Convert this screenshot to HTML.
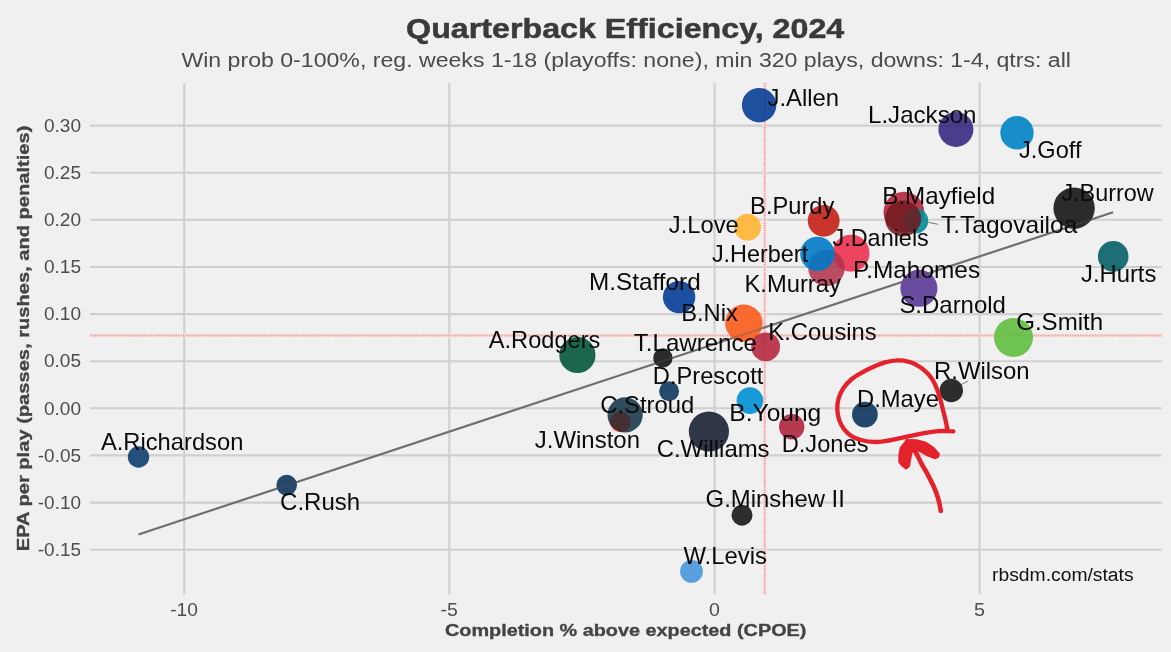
<!DOCTYPE html>
<html><head><meta charset="utf-8"><title>Quarterback Efficiency, 2024</title>
<style>
html,body{margin:0;padding:0;background:#F0F0F0;}
body{width:1171px;height:652px;overflow:hidden;font-family:"Liberation Sans",sans-serif;}
svg{display:block;filter:blur(0.45px);}
text{font-family:"Liberation Sans",sans-serif;}
.lab{font-size:23.8px;fill:#0a0a0a;}
.tick{font-size:17.6px;fill:#4d4d4d;}
.ax{font-size:17.2px;font-weight:bold;fill:#444;stroke:#444;stroke-width:0.35px;}
</style></head><body>
<svg width="1171" height="652" viewBox="0 0 1171 652">
<rect x="0" y="0" width="1171" height="652" fill="#F0F0F0"/>
<text x="406.1" y="37.8" font-size="27.4" font-weight="bold" fill="#3a3a3a" stroke="#3a3a3a" stroke-width="0.5" textLength="438.2" lengthAdjust="spacingAndGlyphs">Quarterback Efficiency, 2024</text>
<text x="181.4" y="67.4" font-size="20" fill="#4a4a4a" textLength="889.6" lengthAdjust="spacingAndGlyphs">Win prob 0-100%, reg. weeks 1-18 (playoffs: none), min 320 plays, downs: 1-4, qtrs: all</text>
<g stroke="#CFCFCF" stroke-width="2.1" fill="none">
<line x1="90" y1="125.6" x2="1161.7" y2="125.6"/>
<line x1="90" y1="172.7" x2="1161.7" y2="172.7"/>
<line x1="90" y1="219.8" x2="1161.7" y2="219.8"/>
<line x1="90" y1="267.0" x2="1161.7" y2="267.0"/>
<line x1="90" y1="314.1" x2="1161.7" y2="314.1"/>
<line x1="90" y1="361.2" x2="1161.7" y2="361.2"/>
<line x1="90" y1="408.3" x2="1161.7" y2="408.3"/>
<line x1="90" y1="455.4" x2="1161.7" y2="455.4"/>
<line x1="90" y1="502.6" x2="1161.7" y2="502.6"/>
<line x1="90" y1="549.7" x2="1161.7" y2="549.7"/>
<line x1="184.2" y1="83" x2="184.2" y2="594.5"/>
<line x1="449.3" y1="83" x2="449.3" y2="594.5"/>
<line x1="714.6" y1="83" x2="714.6" y2="594.5"/>
<line x1="979.6" y1="83" x2="979.6" y2="594.5"/>
</g>
<g stroke="#F9E8E8" stroke-width="3.8" fill="none">
<line x1="90" y1="335.5" x2="1161.7" y2="335.5"/>
<line x1="764.7" y1="83" x2="764.7" y2="594.5"/>
</g>
<g stroke="#F6D6D6" stroke-width="2.0" fill="none">
<line x1="90" y1="335.5" x2="1161.7" y2="335.5"/>
<line x1="764.7" y1="83" x2="764.7" y2="594.5"/>
</g>
<g stroke="#EA9C9C" stroke-width="2.0" fill="none" stroke-dasharray="1.05 1.4">
<line x1="90" y1="335.5" x2="1161.7" y2="335.5"/>
<line x1="764.7" y1="83" x2="764.7" y2="594.5"/>
</g>
<text class="tick" x="43.9" y="131.8" textLength="37.1" lengthAdjust="spacingAndGlyphs">0.30</text>
<text class="tick" x="43.9" y="178.9" textLength="37.1" lengthAdjust="spacingAndGlyphs">0.25</text>
<text class="tick" x="43.9" y="226.0" textLength="37.1" lengthAdjust="spacingAndGlyphs">0.20</text>
<text class="tick" x="43.9" y="273.2" textLength="37.1" lengthAdjust="spacingAndGlyphs">0.15</text>
<text class="tick" x="43.9" y="320.3" textLength="37.1" lengthAdjust="spacingAndGlyphs">0.10</text>
<text class="tick" x="43.9" y="367.4" textLength="37.1" lengthAdjust="spacingAndGlyphs">0.05</text>
<text class="tick" x="43.9" y="414.5" textLength="37.1" lengthAdjust="spacingAndGlyphs">0.00</text>
<text class="tick" x="37.8" y="461.6" textLength="43.2" lengthAdjust="spacingAndGlyphs">-0.05</text>
<text class="tick" x="37.8" y="508.8" textLength="43.2" lengthAdjust="spacingAndGlyphs">-0.10</text>
<text class="tick" x="37.8" y="555.9" textLength="43.2" lengthAdjust="spacingAndGlyphs">-0.15</text>
<text class="tick" x="170.2" y="616" textLength="27.8" lengthAdjust="spacingAndGlyphs">-10</text>
<text class="tick" x="440.6" y="616" textLength="17.3" lengthAdjust="spacingAndGlyphs">-5</text>
<text class="tick" x="709.1" y="616" textLength="10.9" lengthAdjust="spacingAndGlyphs">0</text>
<text class="tick" x="974.1" y="616" textLength="11.0" lengthAdjust="spacingAndGlyphs">5</text>
<text class="ax" x="445.0" y="635.9" textLength="361.4" lengthAdjust="spacingAndGlyphs">Completion % above expected (CPOE)</text>
<text class="ax" transform="translate(29.1,549.9) rotate(-90)" x="-1.3" y="0" textLength="425.6" lengthAdjust="spacingAndGlyphs">EPA per play (passes, rushes, and penalties)</text>
<line x1="138.5" y1="534.4" x2="1113" y2="212.3" stroke="#707070" stroke-width="2.1"/>
<g stroke="none">
<circle cx="138.5" cy="457" r="10.7" fill="#0D3E71" fill-opacity="0.9"/>
<circle cx="286.7" cy="485.1" r="10.3" fill="#0D345B" fill-opacity="0.9"/>
<circle cx="577.4" cy="355" r="18.1" fill="#04573E" fill-opacity="0.9"/>
<circle cx="662.9" cy="357.9" r="9.7" fill="#151515" fill-opacity="0.9"/>
<circle cx="669.1" cy="391.3" r="10" fill="#0E385D" fill-opacity="0.9"/>
<circle cx="620.3" cy="422.1" r="10.2" fill="#FB491D" fill-opacity="0.9"/>
<circle cx="625.1" cy="414.9" r="17.6" fill="#002237" fill-opacity="0.8"/>
<circle cx="708.9" cy="431.5" r="20.1" fill="#182135" fill-opacity="0.9"/>
<circle cx="749.9" cy="400.6" r="13.3" fill="#0090D3" fill-opacity="0.9"/>
<circle cx="743.9" cy="323.2" r="18.7" fill="#FA5B1B" fill-opacity="0.9"/>
<circle cx="765.6" cy="346.8" r="14.4" fill="#B62840" fill-opacity="0.9"/>
<circle cx="679.1" cy="297.1" r="16.2" fill="#063D97" fill-opacity="0.9"/>
<circle cx="747.6" cy="227.2" r="13.4" fill="#FEB531" fill-opacity="0.9"/>
<circle cx="759.1" cy="105.2" r="17.2" fill="#083D96" fill-opacity="0.9"/>
<circle cx="823.7" cy="220.8" r="15.9" fill="#C41F15" fill-opacity="0.9"/>
<circle cx="851" cy="253.2" r="18.5" fill="#EC3250" fill-opacity="0.9"/>
<circle cx="826.5" cy="268" r="18.25" fill="#B0334F" fill-opacity="0.88"/>
<circle cx="817.4" cy="253.9" r="17.2" fill="#007AC5" fill-opacity="0.9"/>
<circle cx="903.9" cy="212.2" r="20.4" fill="#B2253C" fill-opacity="0.9"/>
<circle cx="915.8" cy="220.8" r="12.5" fill="#008C97" fill-opacity="0.9"/>
<circle cx="903" cy="218.6" r="18" fill="#701A1F" fill-opacity="0.85"/>
<circle cx="918.9" cy="288.3" r="18.5" fill="#5A3997" fill-opacity="0.9"/>
<circle cx="955.9" cy="129.4" r="17.5" fill="#392981" fill-opacity="0.9"/>
<circle cx="1017" cy="132.8" r="16.7" fill="#0084C7" fill-opacity="0.9"/>
<circle cx="1074.1" cy="208.2" r="20.7" fill="#151515" fill-opacity="0.9"/>
<circle cx="1113.2" cy="256.4" r="15.3" fill="#076067" fill-opacity="0.9"/>
<circle cx="1013.5" cy="337.4" r="19.5" fill="#61BE3E" fill-opacity="0.9"/>
<circle cx="791.7" cy="426.7" r="12.7" fill="#AE253D" fill-opacity="0.9"/>
<circle cx="864.9" cy="414.6" r="12.9" fill="#0C345C" fill-opacity="0.9"/>
<circle cx="951.3" cy="390.5" r="11.7" fill="#171717" fill-opacity="0.9"/>
<circle cx="742" cy="515.2" r="10.5" fill="#171717" fill-opacity="0.9"/>
<circle cx="691.5" cy="571.4" r="11.4" fill="#4A97DC" fill-opacity="0.9"/>
</g>
<clipPath id="cs"><circle cx="625.1" cy="414.9" r="17.6"/></clipPath>
<circle cx="620.3" cy="422.1" r="10.2" fill="#4C2F30" clip-path="url(#cs)" fill-opacity="0.7"/>
<line x1="138.5" y1="534.4" x2="1113" y2="212.3" stroke="#707070" stroke-width="1.9" opacity="0.35"/>
<g stroke="#222" stroke-width="0.6"><line x1="928.3" y1="222.4" x2="938" y2="224.3"/><line x1="952.5" y1="389.2" x2="968" y2="381"/></g>
<text class="lab" x="767.5" y="106.0" textLength="71.6" lengthAdjust="spacingAndGlyphs">J.Allen</text>
<text class="lab" x="868.0" y="122.6" textLength="108.5" lengthAdjust="spacingAndGlyphs">L.Jackson</text>
<text class="lab" x="1019.0" y="158.1" textLength="62.5" lengthAdjust="spacingAndGlyphs">J.Goff</text>
<text class="lab" x="1061.4" y="200.7" textLength="92.3" lengthAdjust="spacingAndGlyphs">J.Burrow</text>
<text class="lab" x="882.3" y="203.6" textLength="112.8" lengthAdjust="spacingAndGlyphs">B.Mayfield</text>
<text class="lab" x="941.0" y="232.9" textLength="136.3" lengthAdjust="spacingAndGlyphs">T.Tagovailoa</text>
<text class="lab" x="750.1" y="213.7" textLength="84.2" lengthAdjust="spacingAndGlyphs">B.Purdy</text>
<text class="lab" x="668.8" y="233.2" textLength="69.9" lengthAdjust="spacingAndGlyphs">J.Love</text>
<text class="lab" x="832.5" y="245.5" textLength="96.3" lengthAdjust="spacingAndGlyphs">J.Daniels</text>
<text class="lab" x="711.9" y="262.2" textLength="96.3" lengthAdjust="spacingAndGlyphs">J.Herbert</text>
<text class="lab" x="853.0" y="277.6" textLength="127.1" lengthAdjust="spacingAndGlyphs">P.Mahomes</text>
<text class="lab" x="744.5" y="292.0" textLength="96.3" lengthAdjust="spacingAndGlyphs">K.Murray</text>
<text class="lab" x="1081.0" y="281.8" textLength="75.4" lengthAdjust="spacingAndGlyphs">J.Hurts</text>
<text class="lab" x="589.1" y="289.8" textLength="111.6" lengthAdjust="spacingAndGlyphs">M.Stafford</text>
<text class="lab" x="899.4" y="313.4" textLength="106.5" lengthAdjust="spacingAndGlyphs">S.Darnold</text>
<text class="lab" x="681.2" y="320.9" textLength="56.7" lengthAdjust="spacingAndGlyphs">B.Nix</text>
<text class="lab" x="1016.2" y="329.6" textLength="87.0" lengthAdjust="spacingAndGlyphs">G.Smith</text>
<text class="lab" x="768.3" y="339.8" textLength="108.4" lengthAdjust="spacingAndGlyphs">K.Cousins</text>
<text class="lab" x="488.8" y="348.1" textLength="111.5" lengthAdjust="spacingAndGlyphs">A.Rodgers</text>
<text class="lab" x="633.8" y="350.5" textLength="123.1" lengthAdjust="spacingAndGlyphs">T.Lawrence</text>
<text class="lab" x="652.8" y="383.5" textLength="110.5" lengthAdjust="spacingAndGlyphs">D.Prescott</text>
<text class="lab" x="934.0" y="378.6" textLength="95.6" lengthAdjust="spacingAndGlyphs">R.Wilson</text>
<text class="lab" x="600.3" y="412.5" textLength="94.0" lengthAdjust="spacingAndGlyphs">C.Stroud</text>
<text class="lab" x="857.0" y="407.4" textLength="81.9" lengthAdjust="spacingAndGlyphs">D.Maye</text>
<text class="lab" x="729.3" y="421.4" textLength="92.0" lengthAdjust="spacingAndGlyphs">B.Young</text>
<text class="lab" x="534.8" y="447.9" textLength="105.2" lengthAdjust="spacingAndGlyphs">J.Winston</text>
<text class="lab" x="781.7" y="451.7" textLength="86.8" lengthAdjust="spacingAndGlyphs">D.Jones</text>
<text class="lab" x="656.7" y="456.8" textLength="112.9" lengthAdjust="spacingAndGlyphs">C.Williams</text>
<text class="lab" x="100.9" y="449.8" textLength="142.5" lengthAdjust="spacingAndGlyphs">A.Richardson</text>
<text class="lab" x="280.1" y="510.1" textLength="80.1" lengthAdjust="spacingAndGlyphs">C.Rush</text>
<text class="lab" x="705.6" y="507.4" textLength="139.2" lengthAdjust="spacingAndGlyphs">G.Minshew II</text>
<text class="lab" x="683.4" y="563.7" textLength="83.6" lengthAdjust="spacingAndGlyphs">W.Levis</text>
<text x="992.0" y="580.9" font-size="18" fill="#111" textLength="141.6" lengthAdjust="spacingAndGlyphs">rbsdm.com/stats</text>
<g fill="none" stroke="#E3222B" stroke-linecap="round" stroke-linejoin="round">
<path stroke-width="4.3" d="M946.6,426.5 C947.2,429 947.7,430.1 947.7,430.1 C946.2,423 944.6,416 943.5,412.1 C942.6,408 941.6,404 940.8,401.1 C939.6,397 938.4,393 937.3,390 C935.8,386 934.2,382.5 932.5,379.7 C930.6,376.6 928.6,374.2 926.3,372.1 C923.6,369.6 921,367.4 918,365.9 C915,364 911.8,362.6 908.4,361.7 C904.8,360.6 901,360.2 897.3,360.4 C893,360.6 889,361.3 884.9,362.4 C880.6,363.7 876.5,365.4 872.5,367.3 C868.6,369 865,370.8 861.4,372.8 C858,374.6 854.8,376.6 851.8,379 C848.7,381.6 846,384.6 843.5,388 C841.4,391.2 839.8,394.6 838.6,398.3 C837.6,402 837.2,405.6 837.3,409.4 C837.4,413.2 838.1,416.9 839.3,420.4 C840.5,423.8 842.1,426.8 844.2,429.4 C846.4,432.2 848.9,434.5 851.8,436.3 C854.4,437.9 857.1,439 860,439.7 C865,441.2 870.4,442 875.7,442 C882,441.9 888.3,440.6 894.5,439.3 C900.8,438 907,436.7 913.2,435.3 C919.5,434 925.8,432.7 932,431.8 C936,431.2 940.2,430.9 944.2,430.8 C947.3,430.8 950.4,431 953.4,431.3"/>
<path stroke-width="4.6" d="M940.8,510.9 C940.2,506.7 939.3,502.6 938.2,498.6 C936.9,494.4 935.4,490.3 933.6,486.3 C931.7,482.2 929.6,478.1 927.5,474.1 C925.5,470.5 923.3,467 921.3,463.3 C919.7,460.3 918.2,457.2 916.7,454.1 C915.3,451.5 913.8,448.9 912.1,446.5 C910.8,444.5 909.2,442.7 907.5,441.1"/>
</g>
<path fill="#E3222B" stroke="#E3222B" stroke-width="2.4" stroke-linejoin="round" d="M906.8,440.6 L900.9,448 L899.6,455 L899.4,461.8 L902.2,465.4 L906,468.2 L908.9,466 L909.8,460.3 L911.4,452.6 L914,448.2 L920.6,451.3 L927.5,455.2 L935.1,458 L937.9,456.9 L938.6,454.1 L933.6,448.2 L925.9,443 L918.3,440.8 L912.1,440.3 Z"/>
</svg></body></html>
